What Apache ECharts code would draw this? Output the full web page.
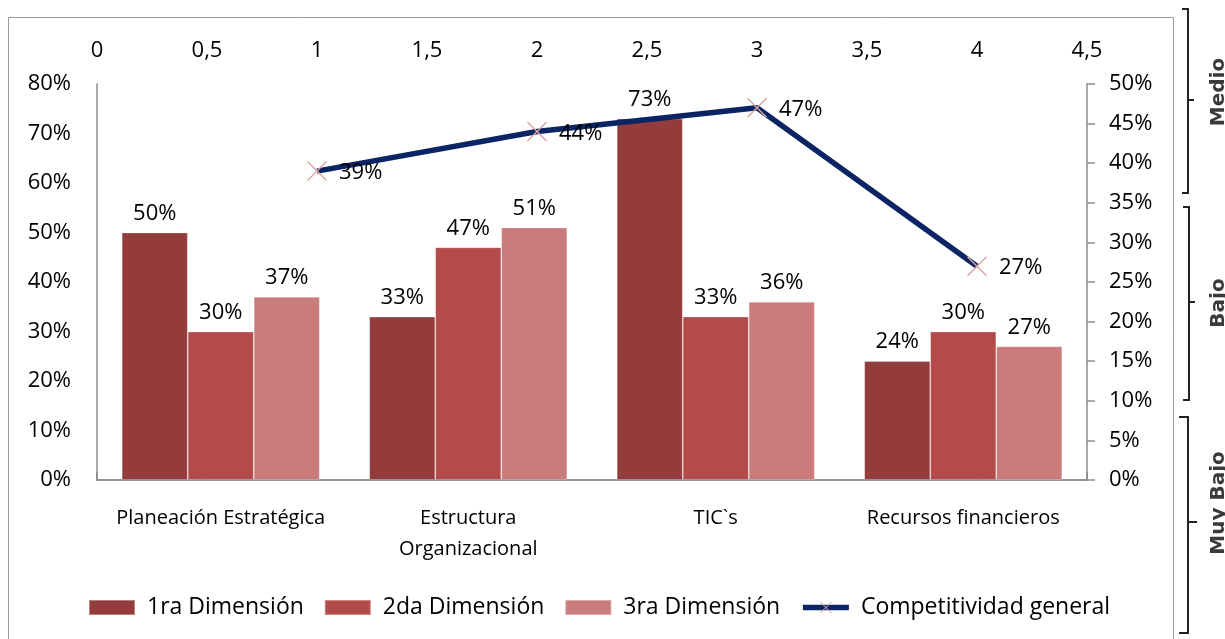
<!DOCTYPE html>
<html>
<head>
<meta charset="utf-8">
<script src="https://cdn.jsdelivr.net/npm/echarts@6/dist/echarts.min.js"></script>
<style>
  html, body { margin: 0; padding: 0; background: #fff; }
  #chart { width: 1225px; height: 639px; }
</style>
</head>
<body>
<div id="chart"></div>
<script>
// Factores evaluados por dimensión (porcentaje)
const categories = ['Planeación Estratégica', 'Estructura\nOrganizacional', 'TIC`s', 'Recursos financieros'];
const dim1 = [50, 33, 73, 24];
const dim2 = [30, 47, 33, 30];
const dim3 = [37, 51, 36, 27];

// Competitividad general sobre el eje secundario
const compX = [1, 2, 3, 4];
const compValues = [39, 44, 47, 27];

// Rango de niveles del lado derecho
const levels = ['Medio', 'Bajo', 'Muy Bajo'];

const FONT = '"Open Sans", Lato, sans-serif';
const AXIS_COLOR = '#8c8c8c';
const LINE_COLOR = '#0b2463';
const TXT = { fontFamily: FONT, fontSize: 22, color: '#000' };
const pct = v => Math.round(v) + '%';
const CROSS = 'path://M0,1L1,0L10,9L19,0L20,1L11,10L20,19L19,20L10,11L1,20L0,19L9,10Z';

const chart = echarts.init(document.getElementById('chart'), null, { renderer: 'canvas' });

const barSeries = (name, data, color) => ({
  name, type: 'bar', xAxisIndex: 0, yAxisIndex: 0, data,
  barGap: '0%', barCategoryGap: '20%',
  itemStyle: { color, borderColor: 'rgba(255,255,255,0.35)', borderWidth: 0.8 },
  label: { show: true, position: 'top', distance: 8, formatter: p => pct(p.value), ...TXT }
});

// Brackets for the level annotations
function bracket(top, mid, bottom, x, hookL, nubR) {
  return {
    type: 'polyline', silent: true,
    shape: { points: [[hookL, top], [x, top], [x, mid], [nubR, mid], [x, mid], [x, bottom], [hookL, bottom]] },
    style: { stroke: '#222', lineWidth: 2, fill: null }
  };
}
function levelText(text, cy) {
  return {
    type: 'text', silent: true, x: 1219, y: cy, rotation: Math.PI / 2,
    style: { text, fontFamily: '"DejaVu Sans", sans-serif', fontSize: 20, fontWeight: 'bold',
             fill: '#3a3a3a', align: 'center', verticalAlign: 'middle' }
  };
}

chart.setOption({
  animation: false,
  backgroundColor: '#fff',
  textStyle: { fontFamily: FONT },
  grid: { left: 97, right: 138, top: 84, bottom: 159, containLabel: false },
  legend: {
    left: 88, top: 596, padding: 0, itemWidth: 46, itemHeight: 15, itemGap: 20,
    textStyle: { ...TXT, fontSize: 23, padding: [0, 0, 0, 7] },
    data: [
      { name: '1ra Dimensión', icon: 'rect' },
      { name: '2da Dimensión', icon: 'rect' },
      { name: '3ra Dimensión', icon: 'rect' },
      { name: 'Competitividad general', lineStyle: { width: 5.5, color: LINE_COLOR } }
    ]
  },
  xAxis: [
    {
      type: 'category', position: 'bottom', data: categories,
      axisLine: { lineStyle: { color: AXIS_COLOR, width: 1.5 } },
      axisTick: { show: false },
      axisLabel: { ...TXT, fontSize: 20, margin: 23, lineHeight: 31, interval: 0 },
      splitLine: { show: false }
    },
    {
      type: 'value', position: 'top', min: 0, max: 4.5, interval: 0.5,
      axisLine: { show: true, lineStyle: { color: AXIS_COLOR, width: 1.5 } },
      axisTick: { show: true, length: 8, lineStyle: { color: AXIS_COLOR, width: 1.5 } },
      axisLabel: { ...TXT, margin: 22, formatter: v => String(v).replace('.', ',') },
      splitLine: { show: false }
    }
  ],
  yAxis: [
    {
      type: 'value', position: 'left', min: 0, max: 80, interval: 10,
      axisLine: { show: true, lineStyle: { color: AXIS_COLOR, width: 1.5 } },
      axisTick: { show: false },
      axisLabel: { ...TXT, margin: 26, formatter: v => v + '%' },
      splitLine: { show: false }
    },
    {
      type: 'value', position: 'right', min: 0, max: 50, interval: 5,
      axisLine: { show: true, lineStyle: { color: AXIS_COLOR, width: 1.5 } },
      axisTick: { show: true, length: 8, lineStyle: { color: AXIS_COLOR, width: 1.5 } },
      axisLabel: { ...TXT, margin: 22, formatter: v => v + '%' },
      splitLine: { show: false }
    }
  ],
  series: [
    barSeries('1ra Dimensión', dim1, '#943b3c'),
    barSeries('2da Dimensión', dim2, '#b24b49'),
    barSeries('3ra Dimensión', dim3, '#c97c7b'),
    {
      name: 'Competitividad general', type: 'line', xAxisIndex: 1, yAxisIndex: 1,
      data: compX.map((x, i) => [x, compValues[i]]),
      z: 5,
      lineStyle: { color: LINE_COLOR, width: 5.5 },
      symbol: CROSS,
      symbolSize: 20,
      itemStyle: { color: '#d9a6a4' },
      label: { show: true, position: 'right', distance: 12, offset: [0, 2], formatter: p => pct(p.value[1]), ...TXT }
    }
  ],
  graphic: [
    { type: 'rect', silent: true, shape: { x: 8.5, y: 17.5, width: 1165, height: 640 },
      style: { fill: null, stroke: '#9a9a9a', lineWidth: 1 } },
    bracket(9, 100, 193, 1188, 1182, 1194),
    bracket(207, 302, 400, 1189, 1183, 1195),
    bracket(417, 522, 633, 1188, 1179, 1197),
    levelText(levels[0], 92),
    levelText(levels[1], 303),
    levelText(levels[2], 503)
  ]
});
</script>
</body>
</html>
